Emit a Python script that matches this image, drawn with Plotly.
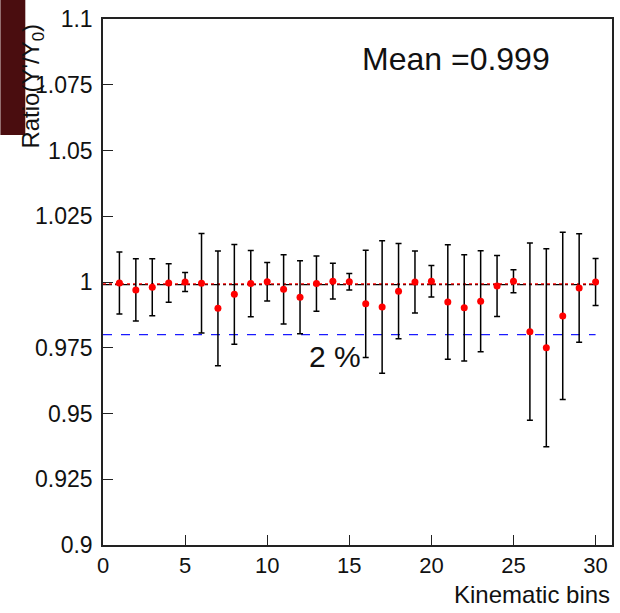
import plotly.graph_objects as go

# Ratio per kinematic bin with its uncertainty
bins = list(range(1, 31))
ratio = [0.9996, 0.9970, 0.9980, 0.9996, 1.0000, 0.9995, 0.9900, 0.9953, 0.9994, 1.0001,
         0.9972, 0.9942, 0.9994, 1.0003, 1.0001, 0.9917, 0.9905, 0.9965, 1.0000, 1.0003,
         0.9924, 0.9902, 0.9927, 0.9985, 1.0003, 0.9811, 0.9750, 0.9871, 0.9977, 1.0000]
ratio_err = [0.0118, 0.0118, 0.0108, 0.0073, 0.0036, 0.0189, 0.0218, 0.0190, 0.0126, 0.0073,
             0.0132, 0.0139, 0.0105, 0.0068, 0.0031, 0.0204, 0.0252, 0.0181, 0.0118, 0.0060,
             0.0218, 0.0202, 0.0192, 0.0116, 0.0044, 0.0337, 0.0376, 0.0318, 0.0206, 0.0089]

mean_value = 0.999
band_level = 0.98
line_x = [0, 30]

y_ticks = [0.9, 0.925, 0.95, 0.975, 1.0, 1.025, 1.05, 1.075, 1.1]
y_tick_text = ["0.9", "0.925", "0.95", "0.975", "1", "1.025", "1.05", "1.075", "1.1"]
x_ticks = [0, 5, 10, 15, 20, 25, 30]

FONT = "Liberation Sans"

fig = go.Figure()

# reference lines: mean and 2 % level
fig.add_trace(go.Scatter(x=line_x, y=[mean_value, mean_value], mode="lines",
                         line=dict(color="black", width=1.2, dash="dashdot"),
                         hoverinfo="skip", showlegend=False))
fig.add_trace(go.Scatter(x=line_x, y=[mean_value + 0.0003] * 2, mode="lines",
                         line=dict(color="red", width=1.3, dash="dot"),
                         hoverinfo="skip", showlegend=False))
fig.add_trace(go.Scatter(x=line_x, y=[band_level, band_level], mode="lines",
                         line=dict(color="#1a1aff", width=1.2, dash="dash"),
                         hoverinfo="skip", showlegend=False))

fig.add_trace(go.Scatter(
    x=bins, y=ratio, mode="markers",
    marker=dict(color="red", size=7, symbol="circle"),
    error_y=dict(type="data", array=ratio_err, visible=True,
                 color="black", thickness=1.5, width=3),
    showlegend=False,
))

fig.update_layout(
    width=620, height=613,
    margin=dict(l=103, r=6, t=19, b=68),
    paper_bgcolor="white", plot_bgcolor="white",
    font=dict(family=FONT, color="#111111"),
    xaxis=dict(range=[0, 31], tickvals=x_ticks, ticks="inside", ticklen=10,
               tickwidth=1.2, tickcolor="#222222", showgrid=False, zeroline=False,
               showline=True, linecolor="#222222", linewidth=1.5, mirror=True,
               tickfont=dict(size=22, family=FONT)),
    yaxis=dict(range=[0.9, 1.1], tickvals=y_ticks, ticktext=y_tick_text,
               ticks="inside", ticklen=10, tickwidth=1.2, tickcolor="#222222",
               showgrid=False, zeroline=False, showline=True, linecolor="#222222",
               linewidth=1.5, mirror=True, tickfont=dict(size=23, family=FONT),
               ticklabelstandoff=4),
    shapes=[dict(type="rect", xref="paper", yref="paper",
                 x0=-103 / 511, x1=-78 / 511, y0=(545 - 135) / 526, y1=(545 + 19) / 526,
                 fillcolor="#4a0d0f", line=dict(width=0), layer="below")],
    annotations=[
        dict(text="Mean =0.999", xref="paper", yref="paper", x=0.505, y=0.924,
             xanchor="left", yanchor="middle", showarrow=False,
             font=dict(size=32, family=FONT, color="#111111")),
        dict(text="2 %", xref="paper", yref="paper", x=0.401, y=0.359,
             xanchor="left", yanchor="middle", showarrow=False,
             font=dict(size=30, family=FONT, color="#111111")),
        dict(text="Kinematic bins", xref="paper", yref="paper", x=1.0, y=-0.094,
             xanchor="right", yanchor="middle", showarrow=False,
             font=dict(size=24, family=FONT, color="#111111")),
        dict(text="Ratio(\u03a5'/\u03a5<sub>0</sub>)", xref="paper", yref="paper",
             x=-0.139, y=0.872, xanchor="center", yanchor="middle", textangle=-90,
             showarrow=False, font=dict(size=24, family=FONT, color="#111111")),
    ],
)

fig.write_html("out.html")
